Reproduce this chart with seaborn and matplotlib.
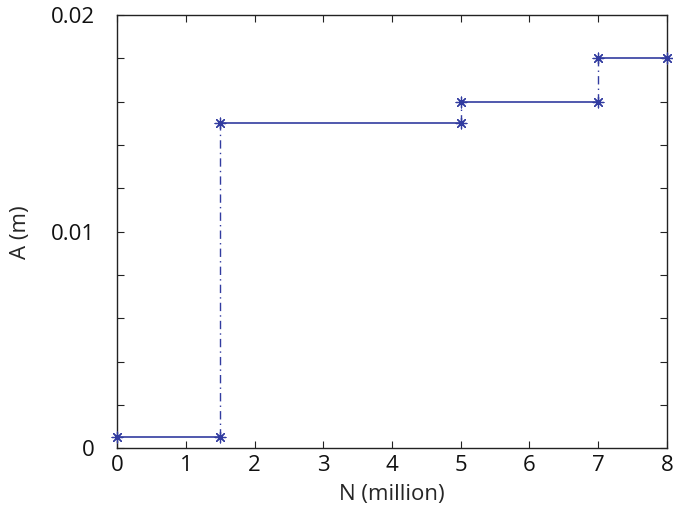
import numpy as np
import pandas as pd
import matplotlib
matplotlib.use('Agg')
import matplotlib.pyplot as plt
import seaborn as sns

sns.set_style('ticks')
plt.rcParams['font.family'] = ['Open Sans', 'DejaVu Sans']

# step points
n_million = [0, 1.5, 1.5, 5, 5, 7, 7, 8]
a_m = [0.0005, 0.0005, 0.015, 0.015, 0.016, 0.016, 0.018, 0.018]

x_ticks = [0, 1, 2, 3, 4, 5, 6, 7, 8]
y_ticks = [0, 0.01, 0.02]
y_tick_labels = ['0', '0.01', '0.02']

color = '#323ca0'

df = pd.DataFrame({'N': n_million, 'A': a_m})
df['seg'] = np.arange(len(df)) // 2
# horizontal pieces: points 0-1, 2-3, ...; vertical: 1-2, 3-4, ...
vert = pd.concat([df.iloc[i:i + 2].assign(seg=i) for i in range(1, len(df) - 1, 2)])

fig, ax = plt.subplots(figsize=(6.73, 5.23), dpi=100)
fig.subplots_adjust(left=0.174, right=0.991, bottom=0.143, top=0.971)

sns.lineplot(data=df, x='N', y='A', units='seg', estimator=None, sort=False,
             color=color, linewidth=1.2, ax=ax)
sns.lineplot(data=vert, x='N', y='A', units='seg', estimator=None, sort=False,
             color=color, linewidth=1.0, linestyle=(0, (6, 3, 1, 3)), ax=ax)
sns.scatterplot(data=df, x='N', y='A', marker=(8, 2, 0), s=60, color=color,
                edgecolor=color, linewidth=0.9, ax=ax, zorder=5, clip_on=False)

ax.set_xlim(0, 8)
ax.set_ylim(0, 0.02)
ax.set_xticks(x_ticks)
ax.set_yticks(y_ticks)
ax.set_yticklabels(y_tick_labels)
ax.set_yticks(np.arange(0, 0.0201, 0.002), minor=True)
ax.tick_params(which='both', direction='in', top=True, right=True,
               labelsize=16, width=0.8, colors='#222222', labelcolor='#111111')
ax.tick_params(axis='y', pad=16)
ax.tick_params(axis='x', pad=5)
ax.tick_params(which='major', length=5)
ax.tick_params(which='minor', length=5)
for s in ax.spines.values():
    s.set_linewidth(1.0)
    s.set_color('#222222')

ax.set_xlabel('N (million)', fontsize=16, labelpad=6)
ax.set_ylabel('A (m)', fontsize=16, labelpad=14)

fig.savefig('out.png', dpi=100)
